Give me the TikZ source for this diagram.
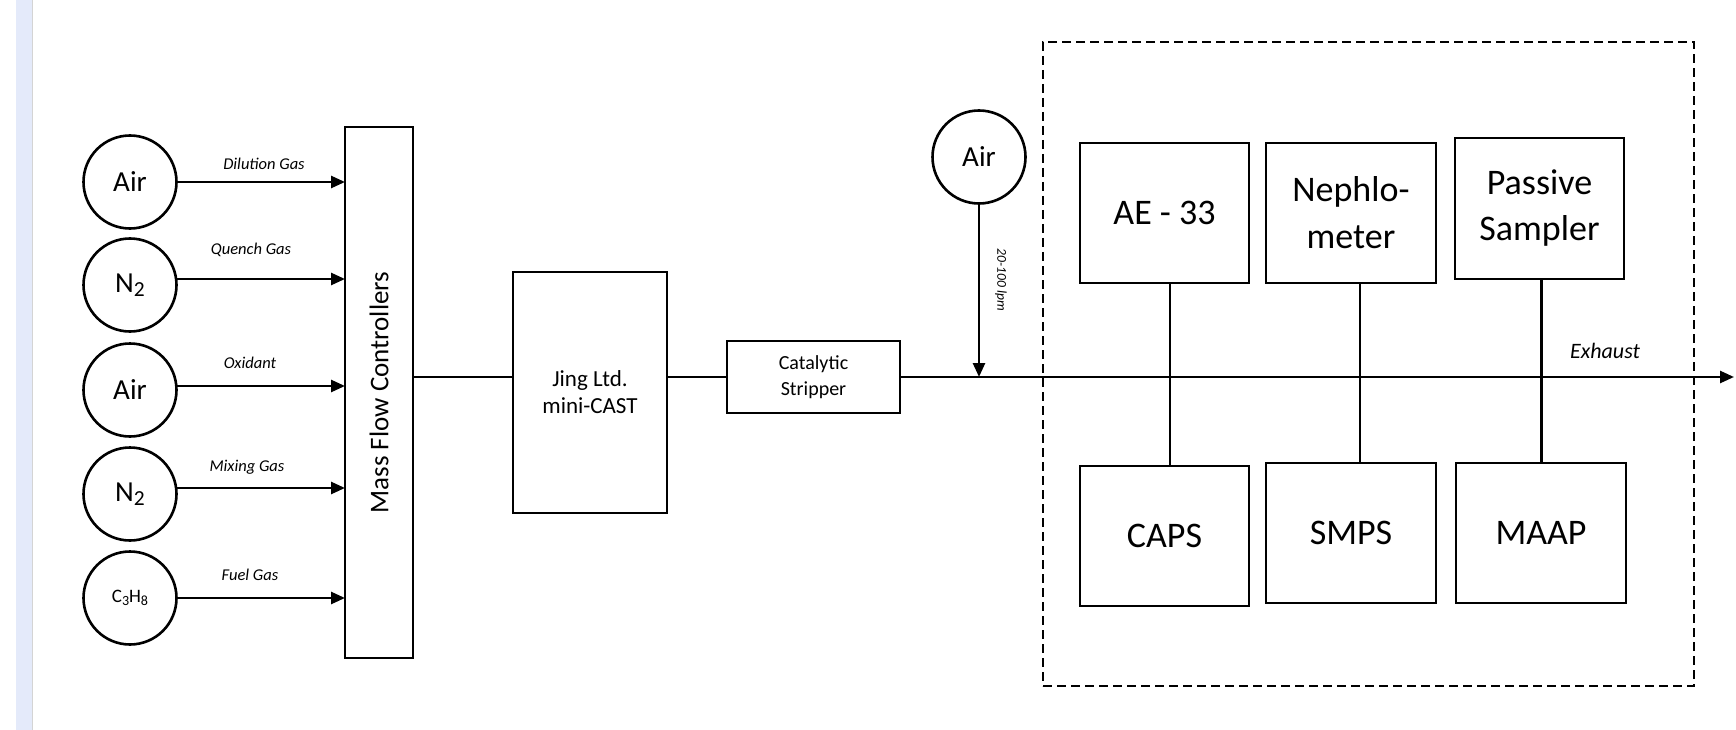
\documentclass[tikz,border=0pt]{standalone}
\usepackage{fontspec}
\setmainfont{Carlito}
\usetikzlibrary{arrows.meta}
\definecolor{band}{HTML}{E4EAFA}
\definecolor{bandedge}{HTML}{D4D4D4}
\newcommand\mysub[1]{\raisebox{-0.14em}{\scalebox{0.74}{#1}}}
\begin{document}
\begin{tikzpicture}[x=1pt,y=-1pt,
  line width=2.6pt,
  box/.style={draw, line width=2.8pt, inner sep=0pt, outer sep=0pt, align=center},
  src/.style={draw, circle, line width=2.6pt, minimum size=93pt, inner sep=0pt, outer sep=0pt, font=\fontsize{29}{30}\selectfont},
  lbl/.style={font=\fontsize{16.5}{18}\selectfont\itshape, inner sep=0pt},
  inst/.style={box, font=\fontsize{36}{47}\selectfont},
  flow/.style={-{Triangle[length=14pt,width=12pt]}},
]
\useasboundingbox (0,0) rectangle (1736,730);
\fill[band] (16,0) rectangle (32,730);
\draw[bandedge, line width=0.8pt] (32.4,0) -- (32.4,730);

% sources
\node[src] (s1) at (130,182) {Air};
\node[src] (s2) at (130,285) {N\mysub{2}};
\node[src] (s3) at (130,390) {Air};
\node[src] (s4) at (130,494) {N\mysub{2}};
\node[src, font=\fontsize{19}{20}\selectfont] (s5) at (130,598) {C\mysub{3}H\mysub{8}};

% mass flow controllers
\node[box, minimum width=68pt, minimum height=531pt] (mfc) at (379,392.5) {};
\node[rotate=90, font=\fontsize{27}{30}\selectfont] (mfct) at (mfc.center) {Mass Flow Controllers};

% gas arrows
\draw[flow] (s1.east) -- (s1.east -| mfc.west);
\draw[flow] ([yshift=6pt]s2.east) -- ([yshift=6pt]s2.east -| mfc.west);
\draw[flow] ([yshift=4pt]s3.east) -- ([yshift=4pt]s3.east -| mfc.west);
\draw[flow] ([yshift=6pt]s4.east) -- ([yshift=6pt]s4.east -| mfc.west);
\draw[flow] (s5.east) -- (s5.east -| mfc.west);

\node[lbl] (l1) at (264,164) {Dilution Gas};
\node[lbl] (l2) at (251,250) {Quench Gas};
\node[lbl] (l3) at (250,363) {Oxidant};
\node[lbl] (l4) at (247,467) {Mixing Gas};
\node[lbl] (l5) at (250,575) {Fuel Gas};

% mini-CAST and stripper
\node[box, minimum width=154pt, minimum height=241pt, font=\fontsize{23}{27}\selectfont] (jing) at (590,392.5) {Jing Ltd.\\mini-CAST};
\node[box, minimum width=173pt, minimum height=72pt, font=\fontsize{20}{26}\selectfont] (cat) at (813.5,377) {Catalytic\\Stripper};

% dilution air
\node[src] (air) at (979,157) {Air};
\node[lbl, rotate=-90, font=\fontsize{13.5}{15}\selectfont\itshape] (lpm) at (1001,280) {20-100 lpm};

% main line
\coordinate (exh) at (1734,377);
\draw (mfc.east |- cat.west) -- (jing.west |- cat.west);
\draw (jing.east |- cat.west) -- (cat.west);
\draw[flow] (cat.east) -- (exh);
\draw[flow] (air.south) -- (air.south |- cat.east);

% instruments enclosure
\node[draw, dash pattern=on 9pt off 5pt, line width=2.4pt, minimum width=651pt, minimum height=644pt, inner sep=0pt, outer sep=0pt] (encl) at (1368.5,364) {};

\node[inst, minimum width=169pt, minimum height=140pt] (ae) at (1164.5,213) {AE - 33};
\node[inst, minimum width=170pt, minimum height=140pt] (neph) at (1351,213) {Nephlo-\\meter};
\node[inst, minimum width=169pt, minimum height=141pt, font=\fontsize{36}{46}\selectfont] (pas) at (1539.5,208.5) {Passive\\Sampler};
\node[inst, minimum width=169pt, minimum height=140pt] (caps) at (1164.5,536) {CAPS};
\node[inst, minimum width=170pt, minimum height=140pt] (smps) at (1351,533) {SMPS};
\node[inst, minimum width=170pt, minimum height=140pt] (maap) at (1541,533) {MAAP};

\draw ([xshift=5.5pt]ae.south) -- ([xshift=5.5pt]ae.south |- caps.north);
\draw ([xshift=9pt]neph.south) -- ([xshift=9pt]neph.south |- smps.north);
\draw ([xshift=2pt]pas.south) -- ([xshift=2pt]pas.south |- maap.north);

\node[font=\fontsize{22}{24}\selectfont\itshape, inner sep=0pt] (exl) at (1605,351) {Exhaust};
\end{tikzpicture}
\end{document}
